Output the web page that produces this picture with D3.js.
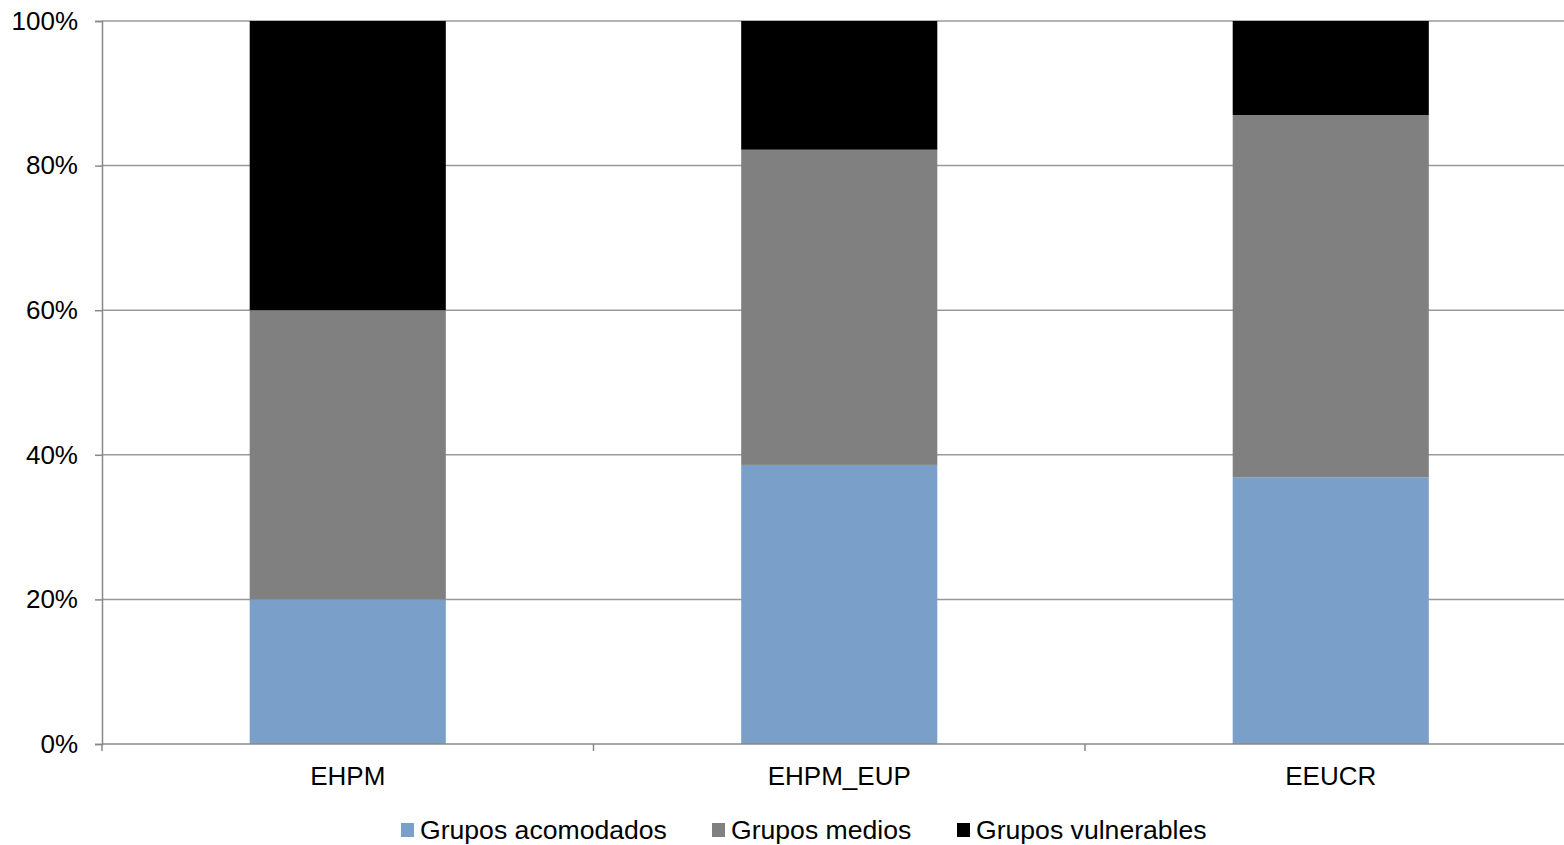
<!DOCTYPE html>
<html><head><meta charset="utf-8">
<script src="https://cdn.jsdelivr.net/npm/d3@7"></script>
<style>body{margin:0;background:#fff}svg{display:block}text{font-family:"Liberation Sans",Arial,sans-serif;fill:#000}</style>
</head><body><svg id="c" width="1564" height="845"></svg>
<script>
const categories = ["EHPM", "EHPM_EUP", "EEUCR"];
const seriesNames = ["Grupos acomodados", "Grupos medios", "Grupos vulnerables"];
const acomodados = [20.0, 38.6, 36.9];
const medios = [40.0, 43.6, 50.1];
const vulnerables = [40.0, 17.8, 13.0];
const yTicks = [0, 20, 40, 60, 80, 100];
const colors = ["#7aa0c9", "#808080", "#000000"];

const svg = d3.select("#c");
const L = 102, R = 1576.5, T = 21, B = 744, W = 1564;
const rows = categories.map((c, i) => ({cat: c, "Grupos acomodados": acomodados[i], "Grupos medios": medios[i], "Grupos vulnerables": vulnerables[i]}));
const stack = d3.stack().keys(seriesNames);
const layers = stack(rows);

const x = d3.scaleBand().domain(categories).range([L, R]).paddingInner(0.601).paddingOuter(0.3005);
const y = d3.scaleLinear().domain([0, 100]).range([B, T]);

// gridlines
svg.append("g").selectAll("line").data(yTicks.filter(d => d > 0)).join("line")
  .attr("x1", L).attr("x2", W).attr("y1", d => y(d)).attr("y2", d => y(d))
  .attr("stroke", "#999").attr("stroke-width", 1.5);

// bars
svg.append("g").selectAll("g").data(layers).join("g")
  .attr("fill", (d, i) => colors[i])
  .selectAll("rect").data(d => d).join("rect")
  .attr("x", d => x(d.data.cat)).attr("width", x.bandwidth())
  .attr("y", d => y(d[1])).attr("height", d => y(d[0]) - y(d[1]));

// y axis
const ya = svg.append("g").attr("transform", `translate(${L},0)`)
  .call(d3.axisLeft(y).tickValues(yTicks).tickFormat(d => d + "%").tickSize(7).tickPadding(17));
ya.select(".domain").attr("stroke", "#888").attr("stroke-width", 1.5);
ya.selectAll(".tick line").attr("stroke", "#888").attr("stroke-width", 1.5);
ya.selectAll(".tick text").attr("font-size", 26).attr("font-family", "Liberation Sans, Arial, sans-serif").attr("fill", "#000");

// x axis
svg.append("line").attr("x1", L).attr("x2", W).attr("y1", B).attr("y2", B).attr("stroke", "#888").attr("stroke-width", 1.5);
const tickPos = d3.range(categories.length + 1).map(i => L + i * x.step());
svg.append("g").selectAll("line").data(tickPos).join("line")
  .attr("x1", d => d).attr("x2", d => d).attr("y1", B).attr("y2", B + 7)
  .attr("stroke", "#888").attr("stroke-width", 1.5);
svg.append("g").selectAll("text").data(categories).join("text")
  .attr("x", d => x(d) + x.bandwidth() / 2).attr("y", 785)
  .attr("text-anchor", "middle").attr("font-size", 26).text(d => d);

// legend
const legendX = [401, 712, 957];
const lg = svg.append("g").selectAll("g").data(seriesNames).join("g")
  .attr("transform", (d, i) => `translate(${legendX[i]},0)`);
lg.append("rect").attr("x", 0).attr("y", 823).attr("width", 13).attr("height", 14).attr("fill", (d, i) => colors[i]);
lg.append("text").attr("x", 19).attr("y", 839).attr("font-size", 26.6).text(d => d);
</script></body></html>
